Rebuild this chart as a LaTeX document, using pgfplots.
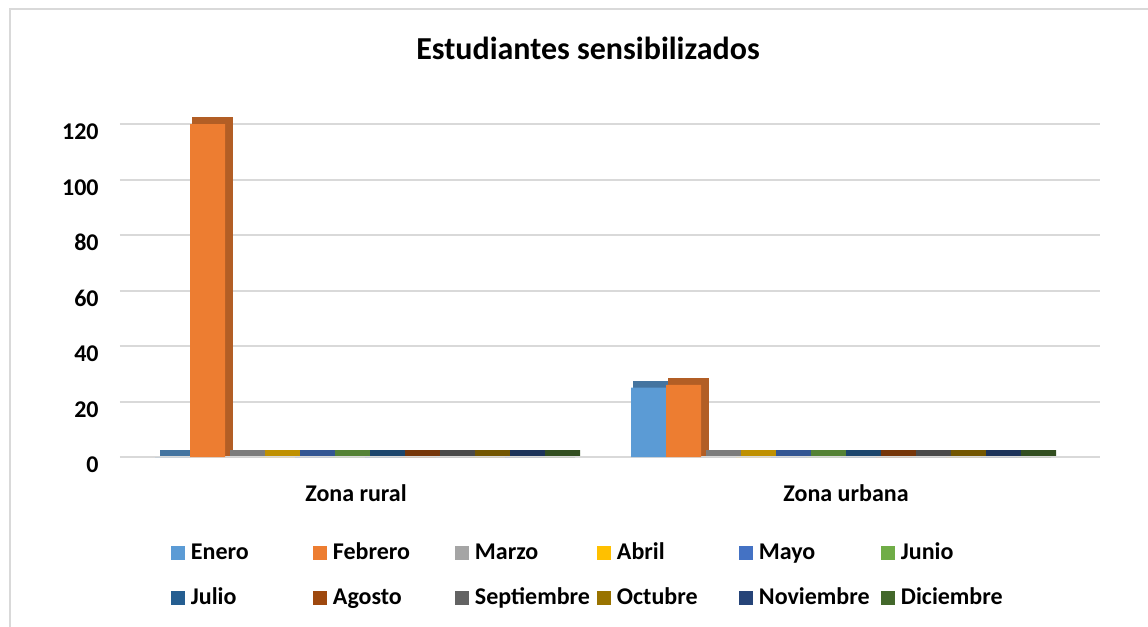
\documentclass[border=0pt]{standalone}
\usepackage{fontspec}
\setmainfont{Carlito}
\usepackage{pgfplots}
\pgfplotsset{compat=1.18}
\definecolor{gridgray}{HTML}{D9D9D9}
\definecolor{cEne}{HTML}{5B9BD5}
\definecolor{cFeb}{HTML}{ED7D31}
\definecolor{cMar}{HTML}{A5A5A5}
\definecolor{cAbr}{HTML}{FFC000}
\definecolor{cMay}{HTML}{4472C4}
\definecolor{cJun}{HTML}{70AD47}
\definecolor{cJul}{HTML}{255E91}
\definecolor{cAgo}{HTML}{9E480E}
\definecolor{cSep}{HTML}{636363}
\definecolor{cOct}{HTML}{997300}
\definecolor{cNov}{HTML}{264478}
\definecolor{cDic}{HTML}{43682B}
\newcommand{\lab}[1]{\makebox[61pt][l]{#1}}
\begin{document}
\begin{tikzpicture}
\useasboundingbox (0,0) rectangle (574pt,-313.5pt);
\draw[gridgray, line width=1pt] (4.75pt,-313.5pt) -- (4.75pt,-4.25pt) -- (574pt,-4.25pt);
\node[font=\bfseries\fontsize{16}{19}\selectfont] at (294pt,-24pt) {Estudiantes sensibilizados};
\begin{axis}[
  at={(60pt,-228.5pt)}, anchor=south west,
  scale only axis, width=490pt, height=166.5pt,
  xmin=-0.5147, xmax=1.544, ymin=0, ymax=120,
  ytick={0,20,...,120}, xtick={0,1},
  xticklabels={\hspace*{-9pt}Zona rural, \hspace*{5pt}Zona urbana},
  axis line style={draw=none}, major tick length=0pt,
  ymajorgrids, grid style={gridgray, line width=1pt},
  clip=false, ybar, bar width=17.5pt,
  /pgf/number format/assume math mode=true,
  ticklabel style={font=\bfseries\fontsize{12}{14}\selectfont},
  yticklabel style={inner sep=0pt, anchor=base east, xshift=-10.5pt, yshift=-7.8pt},
  xticklabel style={inner sep=0pt, anchor=base, yshift=-22.3pt},
  legend columns=6,
  legend image code/.code={\fill[#1,draw=none] (0pt,-3.5pt) rectangle (7pt,3.5pt);},
  legend style={at={(0.052,-0.2568)}, anchor=north west, draw=none, fill=none,
    inner sep=0pt, outer sep=0pt, row sep=12pt, column sep=0pt,
    font=\bfseries\fontsize{12}{14}\selectfont,
    nodes={inner sep=0pt, outer sep=0pt, text height=8.25pt, text depth=2.25pt},
    /tikz/every odd column/.append style={column sep=3pt}},
  depth/.style={fill=#1!75!black, draw=#1!75!black, line width=3pt, xshift=2.5pt, yshift=2pt, forget plot},
]
% depth faces
\addplot[depth=cEne, bar shift=-96.25pt] coordinates {(0,0) (1,25)};
\addplot[depth=cFeb, bar shift=-78.75pt] coordinates {(0,120) (1,26)};
\addplot[depth=cMar, bar shift=-61.25pt] coordinates {(0,0) (1,0)};
\addplot[depth=cAbr, bar shift=-43.75pt] coordinates {(0,0) (1,0)};
\addplot[depth=cMay, bar shift=-26.25pt] coordinates {(0,0) (1,0)};
\addplot[depth=cJun, bar shift=-8.75pt] coordinates {(0,0) (1,0)};
\addplot[depth=cJul, bar shift=8.75pt] coordinates {(0,0) (1,0)};
\addplot[depth=cAgo, bar shift=26.25pt] coordinates {(0,0) (1,0)};
\addplot[depth=cSep, bar shift=43.75pt] coordinates {(0,0) (1,0)};
\addplot[depth=cOct, bar shift=61.25pt] coordinates {(0,0) (1,0)};
\addplot[depth=cNov, bar shift=78.75pt] coordinates {(0,0) (1,0)};
\addplot[depth=cDic, bar shift=96.25pt] coordinates {(0,0) (1,0)};
% front faces
\addplot[fill=cEne, draw=none, bar shift=-96.25pt] coordinates {(0,0) (1,25)};
\addlegendentry{\lab{Enero}}
\addplot[fill=cFeb, draw=none, bar shift=-78.75pt] coordinates {(0,120) (1,26)};
\addlegendentry{\lab{Febrero}}
\addplot[fill=cMar, draw=none, bar shift=-61.25pt] coordinates {(0,0) (1,0)};
\addlegendentry{\lab{Marzo}}
\addplot[fill=cAbr, draw=none, bar shift=-43.75pt] coordinates {(0,0) (1,0)};
\addlegendentry{\lab{Abril}}
\addplot[fill=cMay, draw=none, bar shift=-26.25pt] coordinates {(0,0) (1,0)};
\addlegendentry{\lab{Mayo}}
\addplot[fill=cJun, draw=none, bar shift=-8.75pt] coordinates {(0,0) (1,0)};
\addlegendentry{\lab{Junio}}
\addplot[fill=cJul, draw=none, bar shift=8.75pt] coordinates {(0,0) (1,0)};
\addlegendentry{\lab{Julio}}
\addplot[fill=cAgo, draw=none, bar shift=26.25pt] coordinates {(0,0) (1,0)};
\addlegendentry{\lab{Agosto}}
\addplot[fill=cSep, draw=none, bar shift=43.75pt] coordinates {(0,0) (1,0)};
\addlegendentry{\lab{Septiembre}}
\addplot[fill=cOct, draw=none, bar shift=61.25pt] coordinates {(0,0) (1,0)};
\addlegendentry{\lab{Octubre}}
\addplot[fill=cNov, draw=none, bar shift=78.75pt] coordinates {(0,0) (1,0)};
\addlegendentry{\lab{Noviembre}}
\addplot[fill=cDic, draw=none, bar shift=96.25pt] coordinates {(0,0) (1,0)};
\addlegendentry{\lab{Diciembre}}
\end{axis}
\end{tikzpicture}
\end{document}
